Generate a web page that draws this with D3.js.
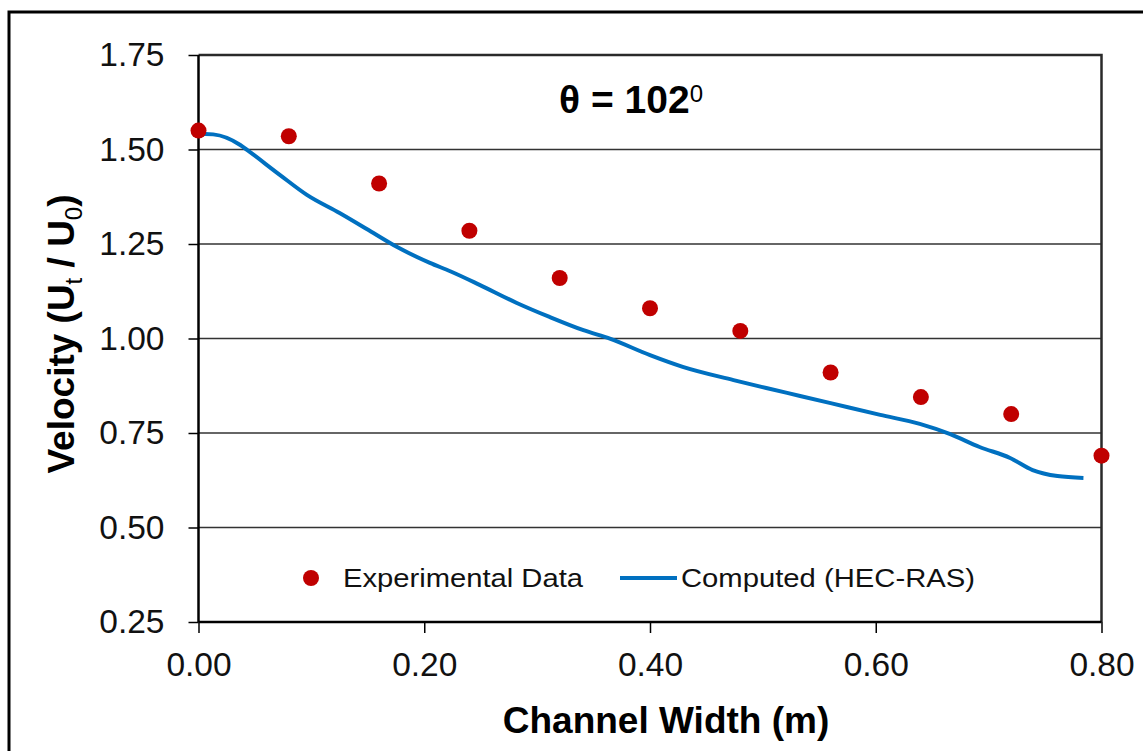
<!DOCTYPE html>
<html>
<head>
<meta charset="utf-8">
<script src="https://cdn.jsdelivr.net/npm/d3@7"></script>
<style>
  body { margin: 0; background: #fff; }
  text { font-family: "Liberation Sans", Arial, sans-serif; }
</style>
</head>
<body>
<div id="chart"></div>
<script>
// measured points
const expX = [0.00, 0.08, 0.16, 0.24, 0.32, 0.40, 0.48, 0.56, 0.64, 0.72, 0.80];
const expY = [1.55, 1.535, 1.41, 1.285, 1.16, 1.08, 1.02, 0.91, 0.845, 0.80, 0.69];

// HEC-RAS profile
const compX = [0, 0.006, 0.013, 0.037, 0.043, 0.072, 0.096, 0.125, 0.155, 0.176, 0.205, 0.223, 0.249,
    0.282, 0.311, 0.341, 0.365, 0.400, 0.429, 0.474, 0.503, 0.533, 0.560, 0.604, 0.639, 0.666,
    0.692, 0.719, 0.739, 0.761, 0.784];
const compY = [1.540, 1.541, 1.540, 1.512, 1.499, 1.433, 1.380, 1.332, 1.279, 1.242, 1.200, 1.178, 1.142,
    1.094, 1.057, 1.022, 0.999, 0.956, 0.925, 0.890, 0.869, 0.848, 0.829, 0.798, 0.774, 0.747,
    0.713, 0.684, 0.652, 0.636, 0.631];

const xTicks = [0, 0.2, 0.4, 0.6, 0.8];
const yTicks = [0.25, 0.5, 0.75, 1.0, 1.25, 1.5, 1.75];
const legendLabels = ["Experimental Data", "Computed (HEC-RAS)"];

(function() {
    const width = 1143;
    const height = 751;
    const plot = { left: 198.5, right: 1101.5, top: 55, bottom: 622 };

    const svg = d3.select("#chart")
        .append("svg")
        .attr("width", width)
        .attr("height", height);

    // outer frame (runs off the right and bottom edges)
    svg.append("rect")
        .attr("x", 9).attr("y", 12)
        .attr("width", width + 20).attr("height", height + 20)
        .attr("fill", "none")
        .attr("stroke", "#000")
        .attr("stroke-width", 3);

    const x = d3.scaleLinear().domain([0, 0.8]).range([plot.left, plot.right]);
    const y = d3.scaleLinear().domain([0.25, 1.75]).range([plot.bottom, plot.top]);

    // gridlines
    svg.append("g")
        .selectAll("line")
        .data(yTicks.slice(1, -1))
        .join("line")
        .attr("x1", plot.left).attr("x2", plot.right)
        .attr("y1", d => y(d)).attr("y2", d => y(d))
        .attr("stroke", "#333")
        .attr("stroke-width", 1.5);

    // top + right frame of plot area
    svg.append("path")
        .attr("d", `M${plot.left},${plot.top}H${plot.right}V${plot.bottom}`)
        .attr("fill", "none")
        .attr("stroke", "#2a2a2a")
        .attr("stroke-width", 2.5);

    // axes
    const yAxis = svg.append("g")
        .attr("transform", `translate(${plot.left},0)`)
        .call(d3.axisLeft(y).tickValues(yTicks).tickFormat(d3.format(".2f")).tickSize(10).tickPadding(24));
    const xAxis = svg.append("g")
        .attr("transform", `translate(0,${plot.bottom})`)
        .call(d3.axisBottom(x).tickValues(xTicks).tickFormat(d3.format(".2f")).tickSize(11).tickPadding(19));

    [yAxis, xAxis].forEach(g => {
        g.select(".domain").attr("stroke", "#000").attr("stroke-width", 2.5);
        g.selectAll(".tick line").attr("stroke", "#000").attr("stroke-width", 1.5);
        g.selectAll(".tick text")
            .attr("fill", "#111")
            .style("font-size", "33.5px")
            .style("font-family", "'Liberation Sans', Arial, sans-serif");
    });
    yAxis.select(".domain").attr("d", `M0,${plot.bottom}V${plot.top}`);
    xAxis.select(".domain").attr("d", `M${plot.left},0H${plot.right}`);

    // computed line
    const line = d3.line()
        .x(d => x(d[0]))
        .y(d => y(d[1]))
        .curve(d3.curveMonotoneX);
    svg.append("path")
        .datum(d3.zip(compX, compY))
        .attr("d", line)
        .attr("fill", "none")
        .attr("stroke", "#0070C0")
        .attr("stroke-width", 4)
        .attr("stroke-linejoin", "round");

    // experimental points
    svg.append("g")
        .selectAll("circle")
        .data(d3.zip(expX, expY))
        .join("circle")
        .attr("cx", d => x(d[0]))
        .attr("cy", d => y(d[1]))
        .attr("r", 8)
        .attr("fill", "#C00000");

    // legend
    const legend = svg.append("g");
    legend.append("circle")
        .attr("cx", 311).attr("cy", 578).attr("r", 8)
        .attr("fill", "#C00000");
    legend.append("text")
        .attr("x", 343).attr("y", 587)
        .attr("textLength", 240)
        .attr("lengthAdjust", "spacingAndGlyphs")
        .style("font-size", "26px")
        .attr("fill", "#111")
        .text(legendLabels[0]);
    legend.append("line")
        .attr("x1", 620).attr("x2", 677)
        .attr("y1", 578).attr("y2", 578)
        .attr("stroke", "#0070C0")
        .attr("stroke-width", 4);
    legend.append("text")
        .attr("x", 681).attr("y", 587)
        .attr("textLength", 294)
        .attr("lengthAdjust", "spacingAndGlyphs")
        .style("font-size", "26px")
        .attr("fill", "#111")
        .text(legendLabels[1]);

    // title
    const title = svg.append("text")
        .attr("x", 631).attr("y", 113)
        .attr("text-anchor", "middle")
        .style("font-size", "39px")
        .style("font-weight", "bold")
        .text("θ = 102");
    title.append("tspan")
        .attr("dy", -11)
        .style("font-size", "24px")
        .style("font-weight", "normal")
        .text("0");

    // axis titles
    svg.append("text")
        .attr("x", 666).attr("y", 733)
        .attr("text-anchor", "middle")
        .style("font-size", "37px")
        .style("font-weight", "bold")
        .text("Channel Width (m)");

    const yTitle = svg.append("text")
        .attr("transform", "translate(74,334) rotate(-90)")
        .attr("text-anchor", "middle")
        .style("font-size", "37px")
        .style("font-weight", "bold");
    yTitle.append("tspan").text("Velocity (U");
    yTitle.append("tspan").attr("dy", 8).style("font-size", "24px").style("font-weight", "normal").text("t");
    yTitle.append("tspan").attr("dy", -8).text(" / U");
    yTitle.append("tspan").attr("dy", 8).style("font-size", "24px").style("font-weight", "normal").text("0");
    yTitle.append("tspan").attr("dy", -8).text(")");
})();
</script>
</body>
</html>
